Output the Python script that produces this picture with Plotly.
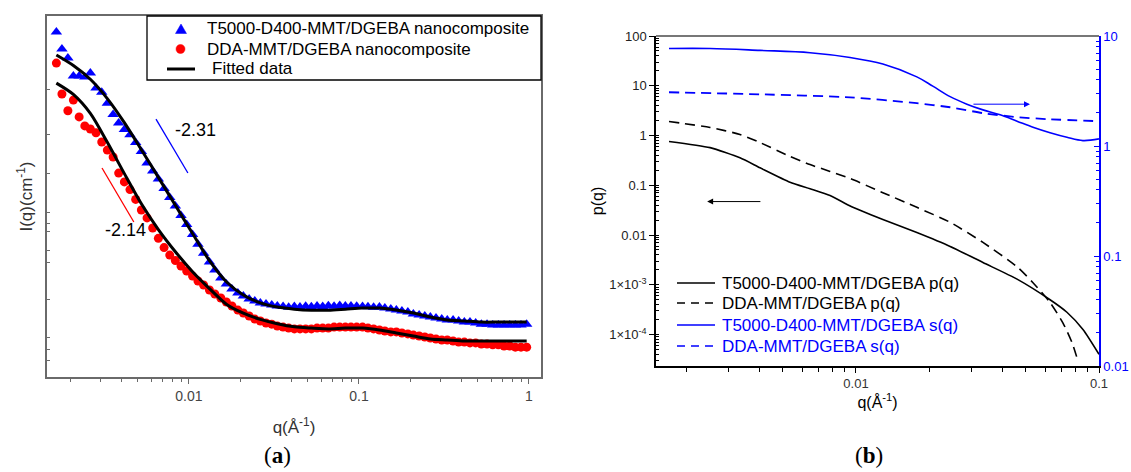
import math
import plotly.graph_objects as go

# ---------------- data: panel (a) ----------------
q_a = [0.00166, 0.00179, 0.00194, 0.00209, 0.00226, 0.00244, 0.00263, 0.00284, 0.00307, 0.00331,
       0.00358, 0.00386, 0.00417, 0.00450, 0.00486, 0.00525, 0.00567, 0.00612, 0.00661, 0.00714,
       0.00771, 0.00832, 0.00898, 0.00970, 0.0105, 0.0113, 0.0122, 0.0132, 0.0142, 0.0154,
       0.0166, 0.0179, 0.0194, 0.0209, 0.0226, 0.0244, 0.0263, 0.0284, 0.0307, 0.0331,
       0.0358, 0.0386, 0.0417, 0.0450, 0.0486, 0.0525, 0.0567, 0.0612, 0.0661, 0.0714,
       0.0771, 0.0832, 0.0898, 0.0970, 0.105, 0.113, 0.122, 0.132, 0.142, 0.154,
       0.166, 0.179, 0.194, 0.209, 0.226, 0.244, 0.263, 0.284, 0.307, 0.331,
       0.358, 0.386, 0.417, 0.450, 0.486, 0.525, 0.567, 0.612, 0.661, 0.714,
       0.771, 0.832, 0.898, 0.970]

I_t5000 = [73.6, 53.2, 44.8, 31.7, 31.7, 31.1, 33.6, 25.2, 23.3, 18.8,
           15.2, 12.9, 11.4, 10.3, 8.89, 7.48, 6.00, 5.15, 4.42, 3.68,
           3.10, 2.64, 2.20, 1.85, 1.53, 1.27, 1.07, 0.903, 0.775, 0.665,
           0.593, 0.538, 0.499, 0.471, 0.445, 0.428, 0.412, 0.404, 0.397, 0.389,
           0.385, 0.380, 0.386, 0.382, 0.388, 0.384, 0.390, 0.386, 0.391, 0.388,
           0.392, 0.389, 0.390, 0.387, 0.386, 0.383, 0.380, 0.382, 0.374, 0.367,
           0.360, 0.353, 0.347, 0.334, 0.327, 0.321, 0.315, 0.309, 0.303, 0.298,
           0.298, 0.292, 0.286, 0.286, 0.281, 0.275, 0.275, 0.270, 0.270, 0.270,
           0.270, 0.270, 0.270, 0.275]

I_dda = [40.6, 22.5, 16.3, 20.0, 14.5, 12.2, 11.5, 10.7, 8.97, 7.69,
         6.73, 4.95, 4.18, 3.61, 2.99, 2.44, 2.10, 1.73, 1.42, 1.19,
         1.03, 0.929, 0.836, 0.760, 0.690, 0.628, 0.581, 0.528, 0.490, 0.453,
         0.420, 0.389, 0.360, 0.340, 0.321, 0.303, 0.292, 0.281, 0.275, 0.265,
         0.260, 0.255, 0.251, 0.251, 0.251, 0.251, 0.255, 0.255, 0.255, 0.260,
         0.260, 0.260, 0.260, 0.260, 0.260, 0.255, 0.251, 0.246, 0.241, 0.237,
         0.237, 0.232, 0.228, 0.223, 0.219, 0.215, 0.211, 0.207, 0.203, 0.203,
         0.199, 0.195, 0.195, 0.192, 0.192, 0.188, 0.188, 0.185, 0.185, 0.181,
         0.181, 0.177, 0.177, 0.177]

q_fit = [0.00166, 0.00209, 0.00263, 0.00331, 0.00417, 0.00525, 0.00661, 0.00832, 0.0105, 0.0132,
         0.0166, 0.0209, 0.0263, 0.0331, 0.0417, 0.0525, 0.0661, 0.0832, 0.105, 0.132,
         0.166, 0.209, 0.263, 0.331, 0.417, 0.525, 0.661, 0.832, 0.970]
fit_t5000 = [47.4, 38.8, 29.8, 20.6, 13.0, 7.74, 4.56, 2.67, 1.56, 0.927,
             0.619, 0.481, 0.413, 0.381, 0.366, 0.359, 0.359, 0.366, 0.374, 0.374,
             0.360, 0.340, 0.315, 0.298, 0.292, 0.286, 0.286, 0.286, 0.286]
fit_dda = [27.7, 22.3, 15.5, 8.91, 4.90, 2.75, 1.68, 1.10, 0.750, 0.543,
           0.403, 0.339, 0.301, 0.277, 0.261, 0.255, 0.251, 0.255, 0.255, 0.246,
           0.232, 0.219, 0.207, 0.203, 0.199, 0.199, 0.199, 0.199, 0.199]

slope_t5000_q = [0.00640, 0.00986]
slope_t5000_I = [13.9, 4.96]
slope_dda_q = [0.00308, 0.00474]
slope_dda_I = [5.46, 1.94]

# ---------------- data: panel (b) ----------------
q_p_t5000 = [0.00170, 0.00251, 0.00333, 0.00403, 0.00535, 0.00647, 0.00782, 0.0096, 0.0129, 0.0178,
             0.0244, 0.0333, 0.0460, 0.0629, 0.0738, 0.0859, 0.1]
p_t5000 = [0.76, 0.57, 0.356, 0.224, 0.115, 0.085, 0.062, 0.037, 0.0205, 0.0112,
           0.0059, 0.0028, 0.0013, 5.0e-4, 2.8e-4, 1.26e-4, 4.0e-5]

q_p_dda = [0.00170, 0.00251, 0.00333, 0.00403, 0.00535, 0.00647, 0.00782, 0.00945, 0.0129, 0.0178,
           0.0244, 0.0333, 0.0460, 0.0535, 0.0629, 0.0711, 0.0774, 0.0820]
p_dda = [1.91, 1.45, 1.05, 0.72, 0.38, 0.26, 0.19, 0.137, 0.071, 0.036,
         0.018, 0.0071, 0.0023, 0.0011, 4.4e-4, 1.7e-4, 6.9e-5, 2.9e-5]

q_s_t5000 = [0.00170, 0.00251, 0.00403, 0.00647, 0.00945, 0.0129, 0.0178, 0.0207, 0.0244, 0.0286,
             0.0333, 0.0392, 0.0460, 0.0535, 0.0629, 0.0738, 0.0859, 0.1]
s_t5000 = [7.7, 7.7, 7.4, 7.05, 6.38, 5.56, 4.25, 3.50, 2.81, 2.40,
           2.13, 1.92, 1.68, 1.48, 1.32, 1.20, 1.12, 1.16]

q_s_dda = [0.00170, 0.00403, 0.00945, 0.0178, 0.0244, 0.0333, 0.0460, 0.0629, 0.1]
s_dda = [3.08, 2.95, 2.77, 2.45, 2.25, 1.99, 1.83, 1.75, 1.68]

left_arrow_q = [0.0041, 0.00244]
left_arrow_p = 0.047
right_arrow_q = [0.030, 0.052]
right_arrow_s = 2.40

# tick positions of the unlabeled intensity axis in (a)
ytick_a = [24.3, 10.3, 4.95, 2.35, 1.87, 1.63, 1.135, 0.902, 0.437, 0.211, 0.168, 0.138]

names_a = ["T5000-D400-MMT/DGEBA nanocomposite", "DDA-MMT/DGEBA nanocomposite", "Fitted data"]
names_b = ["T5000-D400-MMT/DGEBA p(q)", "DDA-MMT/DGEBA p(q)",
           "T5000-D400-MMT/DGEBA s(q)", "DDA-MMT/DGEBA s(q)"]

# ---------------- styling ----------------
W, H = 1131, 472
FONT = "Liberation Sans, Arial, sans-serif"
SERIF = "Liberation Serif, DejaVu Serif, serif"
BLUE = "#0000FF"
RED = "#FF0000"
GRAY = "#6a6a6a"


def px_x(p):
    return p / W


def px_y(p):
    return 1 - p / H


fig = go.Figure()

# panel (a)
fig.add_trace(go.Scatter(x=q_a, y=I_t5000, mode="markers", name=names_a[0],
                         marker=dict(symbol="triangle-up", size=10, color=BLUE),
                         xaxis="x", yaxis="y"))
fig.add_trace(go.Scatter(x=q_a, y=I_dda, mode="markers", name=names_a[1],
                         marker=dict(symbol="circle", size=9, color=RED),
                         xaxis="x", yaxis="y"))
fig.add_trace(go.Scatter(x=q_fit, y=fit_t5000, mode="lines", name=names_a[2],
                         line=dict(color="black", width=3, shape="spline", smoothing=0.8),
                         xaxis="x", yaxis="y"))
fig.add_trace(go.Scatter(x=q_fit, y=fit_dda, mode="lines", name=names_a[2],
                         line=dict(color="black", width=3, shape="spline", smoothing=0.8),
                         xaxis="x", yaxis="y"))
fig.add_trace(go.Scatter(x=slope_t5000_q, y=slope_t5000_I, mode="lines", name="slope -2.31",
                         line=dict(color=BLUE, width=1.3), xaxis="x", yaxis="y"))
fig.add_trace(go.Scatter(x=slope_dda_q, y=slope_dda_I, mode="lines", name="slope -2.14",
                         line=dict(color=RED, width=1.3), xaxis="x", yaxis="y"))

# panel (b)
fig.add_trace(go.Scatter(x=q_p_t5000, y=p_t5000, mode="lines", name=names_b[0],
                         line=dict(color="black", width=1.6, shape="spline", smoothing=0.6),
                         xaxis="x2", yaxis="y2"))
fig.add_trace(go.Scatter(x=q_p_dda, y=p_dda, mode="lines", name=names_b[1],
                         line=dict(color="black", width=1.6, dash="10px,6px", shape="spline", smoothing=0.6),
                         xaxis="x2", yaxis="y2"))
fig.add_trace(go.Scatter(x=q_s_t5000, y=s_t5000, mode="lines", name=names_b[2],
                         line=dict(color=BLUE, width=1.6, shape="spline", smoothing=1.0),
                         xaxis="x2", yaxis="y3"))
fig.add_trace(go.Scatter(x=q_s_dda, y=s_dda, mode="lines", name=names_b[3],
                         line=dict(color=BLUE, width=1.8, dash="10px,6px", shape="spline", smoothing=0.6),
                         xaxis="x2", yaxis="y3"))

# ---------------- axes ----------------
ax_a_x = [px_x(47), px_x(541)]
ax_a_y = [px_y(377), px_y(16)]
ax_b_x = [px_x(656), px_x(1099)]
ax_b_y = [px_y(366), px_y(36)]

fig.update_layout(
    width=W, height=H, margin=dict(l=0, r=0, t=0, b=0, autoexpand=False),
    paper_bgcolor="white", plot_bgcolor="white",
    font=dict(family=FONT, color="black"),
    showlegend=False,
    xaxis=dict(domain=ax_a_x, anchor="y", type="log", range=[-2.835, 0.071], automargin=False,
               tickvals=[0.01, 0.1, 1], ticktext=["0.01", "0.1", "1"],
               tickfont=dict(family=FONT, size=14, color="#444"),
               ticks="outside", ticklen=5, tickcolor=GRAY, showgrid=False, zeroline=False,
               showline=True, linecolor=GRAY, linewidth=1.5, mirror=True,
               minor=dict(tickmode="linear", dtick="D1", ticks="outside", ticklen=3, tickcolor=GRAY, showgrid=False),
               title=dict(text="q(Å<sup>-1</sup>)", font=dict(family=FONT, size=17, color="#333"), standoff=19)),
    yaxis=dict(domain=ax_a_y, anchor="x", type="log", range=[-1, 2], automargin=False,
               tickvals=ytick_a, showticklabels=False,
               ticks="inside", ticklen=3, tickcolor=GRAY, showgrid=False, zeroline=False,
               showline=True, linecolor=GRAY, linewidth=1.5, mirror=True,
               title=dict(text="I(q)(cm<sup>-1</sup>)", font=dict(family=FONT, size=17, color="#333"), standoff=8)),
    xaxis2=dict(domain=ax_b_x, anchor="y2", type="log", range=[-2.823, -1], automargin=False,
                tickvals=[0.01, 0.1], ticktext=["0.01", "0.1"],
                tickfont=dict(family=FONT, size=13, color="#333"),
                ticks="outside", ticklen=5, tickcolor="black", showgrid=False, zeroline=False,
                showline=True, linecolor="black", linewidth=1.5,
                minor=dict(tickmode="linear", dtick="D1", ticks="outside", ticklen=4, tickcolor="black", showgrid=False),
                title=dict(text="q(Å<sup>-1</sup>)", font=dict(family=FONT, size=16, color="black"), standoff=0)),
    yaxis2=dict(domain=ax_b_y, anchor="x2", type="log", range=[-4.633, 2], automargin=False,
                tickvals=[100, 10, 1, 0.1, 0.01, 1e-3, 1e-4],
                ticktext=["100", "10", "1", "0.1", "0.01", "1×10<sup>-3</sup>", "1×10<sup>-4</sup>"],
                tickfont=dict(family=FONT, size=13, color="#222"),
                ticks="outside", ticklen=5, tickcolor="black", showgrid=False, zeroline=False,
                showline=True, linecolor="black", linewidth=1.5,
                minor=dict(tickmode="linear", dtick="D1", ticks="inside", ticklen=3, tickcolor="black", showgrid=False),
                title=dict(text="p(q)", font=dict(family=FONT, size=16, color="black"), standoff=2)),
    yaxis3=dict(overlaying="y2", anchor="x2", side="right", type="log", range=[-2, 1], automargin=False,
                tickvals=[0.01, 0.1, 1, 10], ticktext=["0.01", "0.1", "1", "10"],
                tickfont=dict(family=FONT, size=13, color=BLUE),
                ticks="inside", ticklen=5, tickcolor=BLUE, showgrid=False, zeroline=False,
                showline=True, linecolor=BLUE, linewidth=1.5,
                minor=dict(tickmode="linear", dtick="D1", ticks="inside", ticklen=3, tickcolor=BLUE, showgrid=False)),
)

shapes = []
# top frame line of panel (b)
shapes.append(dict(type="line", xref="x2 domain", yref="y2 domain", x0=0, x1=1, y0=1, y1=1,
                   line=dict(color="#777", width=2)))

# legend of panel (a): box, symbols
shapes.append(dict(type="rect", xref="paper", yref="paper", x0=px_x(147), x1=px_x(541),
                   y0=px_y(80), y1=px_y(16), line=dict(color="black", width=1.3), fillcolor="white",
                   layer="above"))
tri = "M {:.5f},{:.5f} L {:.5f},{:.5f} L {:.5f},{:.5f} Z".format(
    px_x(181), px_y(24), px_x(175.5), px_y(33.5), px_x(186.5), px_y(33.5))
shapes.append(dict(type="path", xref="paper", yref="paper", path=tri, fillcolor=BLUE,
                   line=dict(color=BLUE, width=0.5), layer="above"))
shapes.append(dict(type="circle", xref="paper", yref="paper", x0=px_x(176), x1=px_x(185),
                   y0=px_y(53.5), y1=px_y(44.5), fillcolor=RED, line=dict(color=RED, width=0.5),
                   layer="above"))
shapes.append(dict(type="line", xref="paper", yref="paper", x0=px_x(167), x1=px_x(195),
                   y0=px_y(69), y1=px_y(69), line=dict(color="black", width=3), layer="above"))

# legend of panel (b): line samples
leg_b_rows = [283, 303, 325, 346]
leg_b_styles = [("black", "solid"), ("black", "8px,6px"), (BLUE, "solid"), (BLUE, "8px,6px")]
for row, (col, dsh) in zip(leg_b_rows, leg_b_styles):
    shapes.append(dict(type="line", xref="paper", yref="paper", x0=px_x(677), x1=px_x(715),
                       y0=px_y(row), y1=px_y(row), line=dict(color=col, width=1.6, dash=dsh)))

fig.update_layout(shapes=shapes)

ann = []
for name, row, xl in zip(names_a, [29, 49, 69], [205, 205, 210]):
    ann.append(dict(x=px_x(xl), y=px_y(row), xref="paper", yref="paper", text=name,
                    xanchor="left", yanchor="middle", showarrow=False,
                    font=dict(family=FONT, size=17, color="black")))
for name, row, col in zip(names_b, leg_b_rows, ["black", "black", BLUE, BLUE]):
    ann.append(dict(x=px_x(720), y=px_y(row), xref="paper", yref="paper", text=name,
                    xanchor="left", yanchor="middle", showarrow=False,
                    font=dict(family=FONT, size=17, color=col)))

ann.append(dict(x=math.log10(0.0110), y=math.log10(11.3), xref="x", yref="y", text="-2.31",
                showarrow=False, font=dict(family=FONT, size=18, color="black")))
ann.append(dict(x=math.log10(0.00426), y=math.log10(1.67), xref="x", yref="y", text="-2.14",
                showarrow=False, font=dict(family=FONT, size=18, color="black")))
ann.append(dict(x=math.log10(left_arrow_q[1]), y=math.log10(left_arrow_p), xref="x2", yref="y2",
                ax=math.log10(left_arrow_q[0]), ay=math.log10(left_arrow_p), axref="x2", ayref="y2",
                text="", showarrow=True, arrowhead=2, arrowsize=1.2, arrowwidth=1, arrowcolor="black"))
ann.append(dict(x=math.log10(right_arrow_q[1]), y=math.log10(right_arrow_s), xref="x2", yref="y3",
                ax=math.log10(right_arrow_q[0]), ay=math.log10(right_arrow_s), axref="x2", ayref="y3",
                text="", showarrow=True, arrowhead=2, arrowsize=1.2, arrowwidth=1, arrowcolor=BLUE))
ann.append(dict(x=px_x(277), y=px_y(455), xref="paper", yref="paper", text="(<b>a</b>)",
                xanchor="center", yanchor="middle",
                showarrow=False, font=dict(family=SERIF, size=23, color="black")))
ann.append(dict(x=px_x(869), y=px_y(455), xref="paper", yref="paper", text="(<b>b</b>)",
                xanchor="center", yanchor="middle",
                showarrow=False, font=dict(family=SERIF, size=23, color="black")))
fig.update_layout(annotations=ann)

fig.write_html("out.html")
